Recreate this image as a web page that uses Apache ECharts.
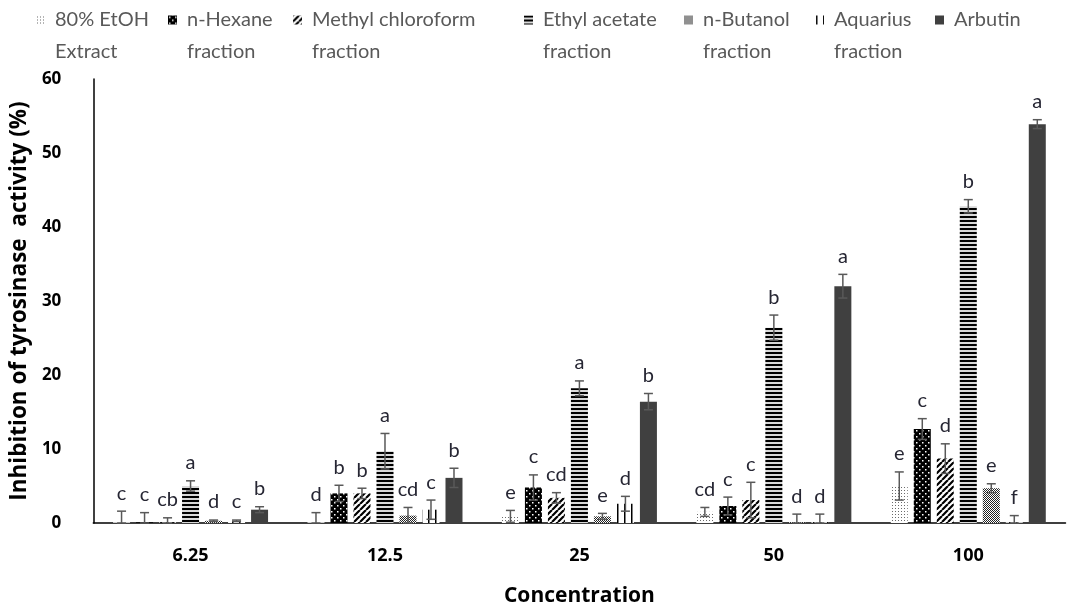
<!DOCTYPE html>
<html>
<head>
<meta charset="utf-8">
<script src="https://cdn.jsdelivr.net/npm/echarts@6/dist/echarts.min.js"></script>
<style>
  html, body { margin: 0; padding: 0; background: #fff; }
  #chart { width: 1067px; height: 612px; }
</style>
</head>
<body>
<div id="chart"></div>
<script>
// Concentrations tested (x categories)
const concentrations = ['6.25', '12.5', '25', '50', '100'];

// Legend labels, two lines each
const etohLabel = ['80% EtOH', 'Extract'];
const hexaneLabel = ['n-Hexane', 'fraction'];
const methylLabel = ['Methyl chloroform', 'fraction'];
const ethylLabel = ['Ethyl acetate', 'fraction'];
const butanolLabel = ['n-Butanol', 'fraction'];
const aquariusLabel = ['Aquarius', 'fraction'];
const arbutinLabel = ['Arbutin', ''];

// Mean inhibition of tyrosinase activity (%)
const etohMean = [0.1, 0.1, 0.9, 1.5, 5.0];
const hexaneMean = [0.1, 4.0, 4.8, 2.3, 12.7];
const methylMean = [0.1, 4.0, 3.4, 3.1, 8.7];
const ethylMean = [5.0, 9.7, 18.2, 26.4, 42.8];
const butanolMean = [0.3, 1.0, 0.9, 0.1, 4.7];
const aquariusMean = [0.3, 1.8, 2.6, 0.1, 0.1];
const arbutinMean = [1.8, 6.1, 16.4, 32.0, 53.9];

// Standard deviations
const etohSD = [1.5, 1.3, 0.8, 0.6, 1.9];
const hexaneSD = [1.3, 1.1, 1.7, 1.2, 1.4];
const methylSD = [0.6, 0.7, 0.7, 2.4, 2.0];
const ethylSD = [0.7, 2.4, 1.0, 1.7, 0.9];
const butanolSD = [0.1, 1.1, 0.4, 1.1, 0.6];
const aquariusSD = [0.1, 1.3, 1.0, 1.1, 0.9];
const arbutinSD = [0.4, 1.3, 1.1, 1.6, 0.6];

// Significance letters
const etohLetters = ['c', 'd', 'e', 'cd', 'e'];
const hexaneLetters = ['c', 'b', 'c', 'c', 'c'];
const methylLetters = ['cb', 'b', 'cd', 'c', 'd'];
const ethylLetters = ['a', 'a', 'a', 'b', 'b'];
const butanolLetters = ['d', 'cd', 'e', 'd', 'e'];
const aquariusLetters = ['c', 'c', 'd', 'd', 'f'];
const arbutinLetters = ['b', 'b', 'b', 'a', 'a'];

// Y axis ticks
const yMin = 0, yMax = 60, yStep = 10;

// ---- fill patterns ----
function pattern(w, h, draw) {
  const c = document.createElement('canvas');
  c.width = w; c.height = h;
  const ctx = c.getContext('2d');
  draw(ctx, w, h);
  return { image: c, repeat: 'repeat' };
}
const fills = [
  // sparse dots
  pattern(3, 3, (ctx) => { ctx.fillStyle = '#ffffff'; ctx.fillRect(0, 0, 3, 3); ctx.fillStyle = '#6a6a6a'; ctx.fillRect(1, 1, 1, 1); }),
  // black with white dots
  pattern(6, 6, (ctx) => { ctx.fillStyle = '#000'; ctx.fillRect(0, 0, 6, 6); ctx.fillStyle = '#fff'; ctx.fillRect(1, 1, 1.5, 1.5); ctx.fillRect(4, 4, 1.5, 1.5); }),
  // wide diagonal stripes
  pattern(6, 6, (ctx) => {
    ctx.fillStyle = '#fff'; ctx.fillRect(0, 0, 6, 6);
    ctx.strokeStyle = '#000'; ctx.lineWidth = 2.2;
    ctx.beginPath();
    for (let k = -6; k <= 12; k += 6) { ctx.moveTo(k, 6); ctx.lineTo(k + 6, 0); }
    ctx.stroke();
  }),
  // horizontal stripes
  pattern(4, 4, (ctx) => { ctx.fillStyle = '#d9d9d9'; ctx.fillRect(0, 0, 4, 4); ctx.fillStyle = '#000'; ctx.fillRect(0, 0, 4, 2); }),
  // fine checker
  pattern(2, 2, (ctx) => { ctx.fillStyle = '#fff'; ctx.fillRect(0, 0, 2, 2); ctx.fillStyle = '#222'; ctx.fillRect(0, 0, 1, 1); ctx.fillRect(1, 1, 1, 1); }),
  // vertical lines
  pattern(7, 4, (ctx) => { ctx.fillStyle = '#fff'; ctx.fillRect(0, 0, 7, 4); ctx.fillStyle = '#000'; ctx.fillRect(1, 0, 1.5, 4); }),
  '#404040'
];

const labels = [etohLabel, hexaneLabel, methylLabel, ethylLabel, butanolLabel, aquariusLabel, arbutinLabel];
const means = [etohMean, hexaneMean, methylMean, ethylMean, butanolMean, aquariusMean, arbutinMean];
const sds = [etohSD, hexaneSD, methylSD, ethylSD, butanolSD, aquariusSD, arbutinSD];
const letters = [etohLetters, hexaneLetters, methylLetters, ethylLetters, butanolLetters, aquariusLetters, arbutinLetters];
const names = labels.map(l => l.filter(Boolean).join(' '));

// bar geometry shared by bars and error bars
const BAR_W = 17;
const BAR_GAP = 0.353;
const nSeries = names.length;
const groupW = nSeries * BAR_W + (nSeries - 1) * BAR_W * BAR_GAP;
const offsets = names.map((_, i) => -groupW / 2 + BAR_W / 2 + i * BAR_W * (1 + BAR_GAP));

const FONT = 'Lato, "Noto Sans", sans-serif';
const BOLD_FONT = '"Open Sans", "Noto Sans", sans-serif';

const barSeries = names.map((name, i) => ({
  name: name,
  type: 'bar',
  barWidth: BAR_W,
  barGap: (BAR_GAP * 100) + '%',
  data: means[i],
  itemStyle: { color: fills[i] },
  emphasis: { disabled: true },
  z: 2
}));

const errorSeries = names.map((name, i) => ({
  name: name + ' SD',
  type: 'custom',
  z: 3,
  silent: true,
  data: means[i].map((m, j) => [j, m, sds[i][j]]),
  renderItem: function (params, api) {
    const cat = api.value(0), m = api.value(1), s = api.value(2);
    const x = api.coord([cat, 0])[0] + offsets[i];
    const yTop = api.coord([cat, m + s])[1];
    const yLow = api.coord([cat, Math.max(0, m - s)])[1];
    const cap = 4.5;
    const stroke = { stroke: '#595959', lineWidth: 1.5 };
    return {
      type: 'group',
      children: [
        { type: 'line', shape: { x1: x, y1: yTop, x2: x, y2: yLow }, style: stroke },
        { type: 'line', shape: { x1: x - cap, y1: yTop, x2: x + cap, y2: yTop }, style: stroke },
        { type: 'line', shape: { x1: x - cap, y1: yLow, x2: x + cap, y2: yLow }, style: stroke },
        {
          type: 'text',
          style: {
            x: x, y: yTop - 8,
            text: letters[i][params.dataIndex],
            fill: '#262633',
            font: '20px ' + FONT,
            textAlign: 'center',
            textVerticalAlign: 'bottom'
          }
        }
      ]
    };
  }
}));

// legend icon: a small square with blank room to its right
const LEGEND_ICON = 'path://M0,0h9v9h-9z M13.9,8.9h0.1v0.1h-0.1z';
// left edge of each legend icon
const legendLeft = [36, 168, 293, 524, 684, 815, 935];
const legends = names.map((name, i) => ({
  data: [name],
  left: legendLeft[i],
  top: -28,
  padding: 0,
  icon: LEGEND_ICON,
  itemWidth: 14,
  itemHeight: 9,
  itemGap: 0,
  selectedMode: false,
  formatter: () => '\n' + labels[i].join('\n'),
  textStyle: {
    color: '#595959',
    fontFamily: FONT,
    fontSize: 20,
    lineHeight: 32
  }
}));

const chart = echarts.init(document.getElementById('chart'), null, { renderer: 'canvas' });
chart.setOption({
  animation: false,
  backgroundColor: '#ffffff',
  legend: legends,
  grid: { left: 89, right: 1.5, top: 79, bottom: 89, containLabel: false },
  xAxis: {
    type: 'category',
    data: concentrations,
    name: 'Concentration',
    nameLocation: 'middle',
    nameGap: 63,
    nameTextStyle: { color: '#000', fontFamily: BOLD_FONT, fontWeight: 'bold', fontSize: 21 },
    axisLine: { lineStyle: { color: '#000', width: 1.5 } },
    axisTick: { show: false },
    axisLabel: { color: '#000', fontFamily: BOLD_FONT, fontWeight: 'bold', fontSize: 18, margin: 24 }
  },
  yAxis: {
    type: 'value',
    min: yMin, max: yMax, interval: yStep,
    name: 'Inhibition of tyrosinase  activity (%)',
    nameLocation: 'middle',
    nameGap: 51,
    nameTextStyle: { color: '#000', fontFamily: BOLD_FONT, fontWeight: 'bold', fontSize: 22.5 },
    axisLine: { show: true, lineStyle: { color: '#000', width: 1.5 } },
    axisTick: { show: false },
    splitLine: { show: false },
    axisLabel: { color: '#000', fontFamily: BOLD_FONT, fontWeight: 'bold', fontSize: 17, margin: 32 }
  },
  series: barSeries.concat(errorSeries)
});
</script>
</body>
</html>
